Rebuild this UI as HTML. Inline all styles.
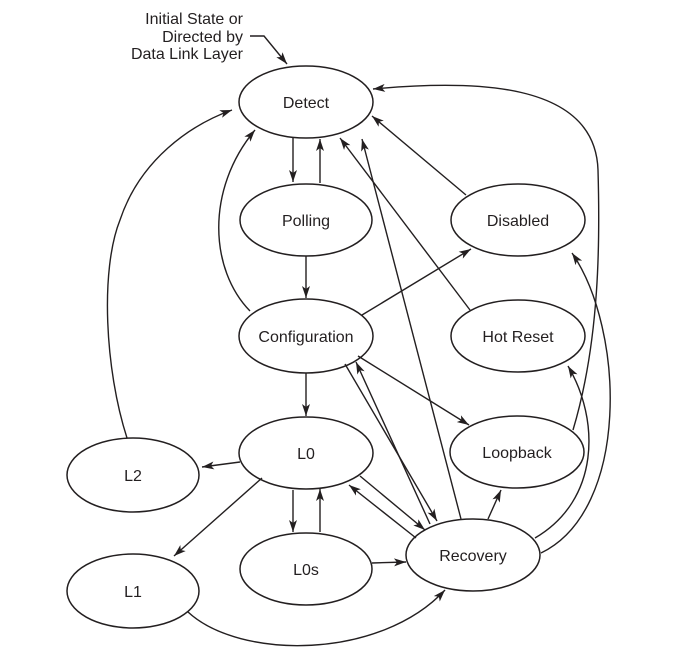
<!DOCTYPE html>
<html><head><meta charset="utf-8"><style>
html,body{margin:0;padding:0;background:#fff;}
svg{display:block;}
text{font-family:"Liberation Sans",Arial,sans-serif;font-size:16px;fill:#231f20;text-anchor:middle;}
text.r{text-anchor:end;}
</style></head><body>
<svg width="678" height="660" viewBox="0 0 678 660" xmlns="http://www.w3.org/2000/svg">
<defs>
<marker id="a" viewBox="0 0 12 8" refX="12" refY="4" markerWidth="12" markerHeight="8" markerUnits="userSpaceOnUse" orient="auto">
<path d="M0,0 L12,4 L0,8 L3,4 Z" fill="#231f20"/>
</marker>
</defs>
<g fill="none" stroke="#231f20" stroke-width="1.5">
<ellipse cx="306" cy="102" rx="67" ry="36"/>
<ellipse cx="306" cy="220" rx="66" ry="36"/>
<ellipse cx="306" cy="336" rx="67" ry="37"/>
<ellipse cx="306" cy="453" rx="67" ry="36"/>
<ellipse cx="306" cy="569" rx="66" ry="36"/>
<ellipse cx="518" cy="220" rx="67" ry="36"/>
<ellipse cx="518" cy="336" rx="67" ry="36"/>
<ellipse cx="517" cy="452" rx="67" ry="36"/>
<ellipse cx="473" cy="555" rx="67" ry="36"/>
<ellipse cx="133" cy="475" rx="66" ry="37"/>
<ellipse cx="133" cy="591" rx="66" ry="37"/>
</g>
<g fill="none" stroke="#231f20" stroke-width="1.4" marker-end="url(#a)">
<path d="M250,36 L264,36 L287,64"/>
<path d="M293,138 L293,182"/>
<path d="M320,183 L320,139"/>
<path d="M306,256 L306,298"/>
<path d="M250,311 C210,270 205,190 255,130"/>
<path d="M362,315 L471,249"/>
<path d="M306,373 L306,416"/>
<path d="M358,356 L469,425"/>
<path d="M345,364 L437,521"/>
<path d="M430,524 L356,362"/>
<path d="M240,462 L202,467"/>
<path d="M127,438 C105,370 100,270 120,220 C140,160 190,125 232,110"/>
<path d="M293,490 L293,532"/>
<path d="M320,532 L320,489"/>
<path d="M262,478 L174,556"/>
<path d="M360,476 L425,530"/>
<path d="M416,538 L349,485"/>
<path d="M372,563 L406,562"/>
<path d="M188,612 C240,660 380,660 445,590"/>
<path d="M488,519 L501,490"/>
<path d="M461,519 L362,139"/>
<path d="M470,310 L340,138"/>
<path d="M466,195 L372,116"/>
<path d="M573,430 C600,340 600,240 598,170 C595,80 470,80 373,89"/>
<path d="M541,553 C630,510 625,330 572,253"/>
<path d="M535,538 C600,500 600,420 568,366"/>
</g>
<text x="306" y="108">Detect</text>
<text x="306" y="226">Polling</text>
<text x="306" y="342">Configuration</text>
<text x="306" y="459">L0</text>
<text x="306" y="575">L0s</text>
<text x="518" y="226">Disabled</text>
<text x="518" y="342">Hot Reset</text>
<text x="517" y="458">Loopback</text>
<text x="473" y="561">Recovery</text>
<text x="133" y="481">L2</text>
<text x="133" y="597">L1</text>
<text class="r" x="243" y="24">Initial State or</text>
<text class="r" x="243" y="42">Directed by</text>
<text class="r" x="243" y="59">Data Link Layer</text>
</svg>
</body></html>
